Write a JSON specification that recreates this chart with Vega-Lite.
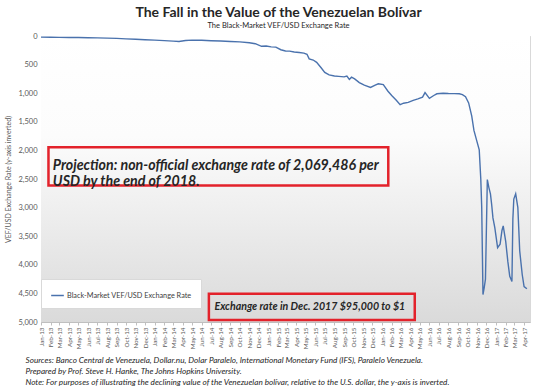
{
  "$schema": "https://vega.github.io/schema/vega-lite/v6.json",
  "width": 540,
  "height": 392,
  "autosize": {"type": "fit", "contains": "padding"},
  "padding": {"left": 4, "right": 10, "top": 5, "bottom": 6},
  "background": "white",
  "config": {
    "font": "Lato",
    "view": {"stroke": "#d9d9d9", "strokeWidth": 1},
    "axis": {"labelFont": "Lato", "titleFont": "Lato", "labelColor": "#595959", "titleColor": "#595959"}
  },
  "title": {
    "text": "The Fall in the Value of the Venezuelan Bolívar",
    "subtitle": "The Black-Market VEF/USD Exchange Rate",
    "fontSize": 14,
    "fontWeight": "bold",
    "color": "#262626",
    "subtitleFontSize": 7.5,
    "subtitleColor": "#262626",
    "subtitlePadding": 2,
    "anchor": "middle",
    "dx": -7,
    "offset": 3
  },
  "datasets": {
    "rate": [
      {"date": "2013-01-01", "rate": 20},
      {"date": "2013-02-01", "rate": 22},
      {"date": "2013-03-01", "rate": 24},
      {"date": "2013-04-01", "rate": 25},
      {"date": "2013-05-01", "rate": 27},
      {"date": "2013-06-01", "rate": 30},
      {"date": "2013-07-01", "rate": 33},
      {"date": "2013-08-01", "rate": 38},
      {"date": "2013-09-01", "rate": 42},
      {"date": "2013-10-01", "rate": 50},
      {"date": "2013-11-01", "rate": 58},
      {"date": "2013-12-01", "rate": 65},
      {"date": "2014-01-01", "rate": 72},
      {"date": "2014-02-01", "rate": 80},
      {"date": "2014-03-01", "rate": 90},
      {"date": "2014-03-20", "rate": 95},
      {"date": "2014-04-10", "rate": 78},
      {"date": "2014-05-01", "rate": 72},
      {"date": "2014-06-01", "rate": 75},
      {"date": "2014-07-01", "rate": 82},
      {"date": "2014-08-01", "rate": 88},
      {"date": "2014-09-01", "rate": 95},
      {"date": "2014-10-01", "rate": 102},
      {"date": "2014-11-01", "rate": 118},
      {"date": "2014-11-20", "rate": 135},
      {"date": "2014-12-10", "rate": 180},
      {"date": "2014-12-25", "rate": 175},
      {"date": "2015-01-10", "rate": 190},
      {"date": "2015-01-25", "rate": 195},
      {"date": "2015-02-10", "rate": 240},
      {"date": "2015-02-25", "rate": 262},
      {"date": "2015-03-10", "rate": 265},
      {"date": "2015-03-25", "rate": 280},
      {"date": "2015-04-10", "rate": 288},
      {"date": "2015-04-25", "rate": 300},
      {"date": "2015-05-05", "rate": 320},
      {"date": "2015-05-12", "rate": 400},
      {"date": "2015-05-25", "rate": 420},
      {"date": "2015-06-05", "rate": 460},
      {"date": "2015-06-20", "rate": 560},
      {"date": "2015-07-01", "rate": 636},
      {"date": "2015-07-15", "rate": 680},
      {"date": "2015-08-01", "rate": 700},
      {"date": "2015-08-15", "rate": 705},
      {"date": "2015-09-01", "rate": 715},
      {"date": "2015-09-10", "rate": 700},
      {"date": "2015-09-18", "rate": 760},
      {"date": "2015-09-25", "rate": 720},
      {"date": "2015-10-05", "rate": 750},
      {"date": "2015-10-20", "rate": 815},
      {"date": "2015-11-05", "rate": 860},
      {"date": "2015-11-25", "rate": 900},
      {"date": "2015-12-10", "rate": 860},
      {"date": "2015-12-20", "rate": 835},
      {"date": "2016-01-05", "rate": 850},
      {"date": "2016-01-20", "rate": 965},
      {"date": "2016-02-01", "rate": 1040},
      {"date": "2016-02-15", "rate": 1120},
      {"date": "2016-02-28", "rate": 1200},
      {"date": "2016-03-10", "rate": 1175},
      {"date": "2016-03-25", "rate": 1160},
      {"date": "2016-04-10", "rate": 1125},
      {"date": "2016-04-25", "rate": 1100},
      {"date": "2016-05-10", "rate": 1070},
      {"date": "2016-05-18", "rate": 990},
      {"date": "2016-06-01", "rate": 1090},
      {"date": "2016-06-15", "rate": 1040},
      {"date": "2016-06-25", "rate": 1010},
      {"date": "2016-07-15", "rate": 1000},
      {"date": "2016-08-01", "rate": 1005},
      {"date": "2016-08-20", "rate": 1008},
      {"date": "2016-09-05", "rate": 1010},
      {"date": "2016-09-15", "rate": 1025},
      {"date": "2016-09-25", "rate": 1060},
      {"date": "2016-10-05", "rate": 1170},
      {"date": "2016-10-15", "rate": 1400},
      {"date": "2016-10-22", "rate": 1650},
      {"date": "2016-11-01", "rate": 1850},
      {"date": "2016-11-08", "rate": 1990},
      {"date": "2016-11-13", "rate": 2500},
      {"date": "2016-11-16", "rate": 3000},
      {"date": "2016-11-20", "rate": 4520},
      {"date": "2016-11-24", "rate": 4400},
      {"date": "2016-11-28", "rate": 4250},
      {"date": "2016-12-04", "rate": 2510},
      {"date": "2016-12-09", "rate": 2650},
      {"date": "2016-12-14", "rate": 2760},
      {"date": "2016-12-18", "rate": 2950},
      {"date": "2016-12-22", "rate": 3180},
      {"date": "2016-12-28", "rate": 3350},
      {"date": "2017-01-06", "rate": 3700},
      {"date": "2017-01-14", "rate": 3640},
      {"date": "2017-01-20", "rate": 3400},
      {"date": "2017-01-24", "rate": 3320},
      {"date": "2017-02-01", "rate": 3590},
      {"date": "2017-02-08", "rate": 3950},
      {"date": "2017-02-14", "rate": 4200},
      {"date": "2017-02-21", "rate": 4290},
      {"date": "2017-02-24", "rate": 3200},
      {"date": "2017-02-27", "rate": 2850},
      {"date": "2017-03-05", "rate": 2760},
      {"date": "2017-03-12", "rate": 3000},
      {"date": "2017-03-18", "rate": 3760},
      {"date": "2017-03-26", "rate": 4170},
      {"date": "2017-04-01", "rate": 4380},
      {"date": "2017-04-10", "rate": 4420}
    ],
    "background": [
      {"date": "2013-01-01", "date2": "2017-04-20", "rate": 0, "rate2": 5000}
    ],
    "boxes": [
      {"date": "2013-01-25", "date2": "2016-01-21", "rate": 1943, "rate2": 2615},
      {"date": "2014-06-24", "date2": "2016-04-15", "rate": 4505, "rate2": 4965}
    ],
    "notes": [
      {"date": "2013-02-08", "rate": 2270, "label": "Projection: non-official exchange rate of 2,069,486 per\nUSD by the end of 2018.", "size": "big"},
      {"date": "2014-07-12", "rate": 4735, "label": "Exchange rate in Dec. 2017  $95,000 to $1", "size": "small"}
    ]
  },
  "encoding": {
    "x": {
      "field": "date", "type": "temporal",
      "scale": {"domain": ["2013-01-01", "2017-04-20"], "nice": false},
      "axis": {
        "format": "%b-%y",
        "tickCount": {"interval": "month", "step": 1},
        "labelAngle": -90,
        "labelFontSize": 6.3,
        "labelPadding": 2,
        "labelOverlap": false,
        "labelFlush": false,
        "tickColor": "#bfbfbf",
        "tickSize": 3,
        "domainColor": "#bfbfbf",
        "grid": false,
        "title": [
          "Sources: Banco Central de Venezuela, Dollar.nu, Dolar Paralelo, International Monetary Fund (IFS), Paralelo Venezuela.",
          "Prepared by Prof. Steve H. Hanke, The Johns Hopkins University.",
          "Note: For purposes of illustrating the declining value of the Venezuelan bolívar, relative to the U.S. dollar, the y-axis is inverted."
        ],
        "titleFontSize": 8.2,
        "titleFontStyle": "italic",
        "titleFontWeight": "normal",
        "titleColor": "#262626",
        "titleAnchor": "start",
        "titleAlign": "left",
        "titleBaseline": "top",
        "titleX": -16,
        "titlePadding": 8,
        "titleLineHeight": 11,
        "titleLimit": 600
      }
    },
    "y": {
      "field": "rate", "type": "quantitative",
      "scale": {"domain": [0, 5000], "reverse": true, "nice": false},
      "axis": {
        "values": [0, 500, 1000, 1500, 2000, 2500, 3000, 3500, 4000, 4500, 5000],
        "format": ",d",
        "labelFontSize": 7.5,
        "labelPadding": 4,
        "labelOverlap": false,
        "ticks": false,
        "domain": false,
        "gridColor": "#d9d9d9",
        "title": "VEF/USD Exchange Rate (y-axis inverted)",
        "titleFontSize": 7,
        "titleFontWeight": "normal",
        "titlePadding": 6
      }
    }
  },
  "layer": [
    {
      "data": {"name": "background"},
      "mark": {
        "type": "rect",
        "color": {
          "gradient": "linear", "x1": 0, "y1": 0, "x2": 0, "y2": 1,
          "stops": [
            {"offset": 0, "color": "#ffffff"},
            {"offset": 0.35, "color": "#fcfcfc"},
            {"offset": 1, "color": "#dadada"}
          ]
        }
      },
      "encoding": {
        "x2": {"field": "date2"},
        "y2": {"field": "rate2"}
      }
    },
    {
      "data": {"name": "rate"},
      "mark": {"type": "line", "strokeWidth": 1.4, "interpolate": "linear"},
      "encoding": {
        "color": {
          "datum": "Black-Market VEF/USD Exchange Rate",
          "scale": {"range": ["#4a72ad"]},
          "legend": {
            "title": null,
            "orient": "none",
            "legendX": 0,
            "legendY": 243,
            "symbolType": "stroke",
            "symbolSize": 160,
            "symbolStrokeWidth": 1.5,
            "labelFontSize": 7.3,
            "labelColor": "#404040",
            "labelOffset": 2,
            "padding": 9,
            "fillColor": "white",
            "strokeColor": "#d9d9d9"
          }
        }
      }
    },
    {
      "data": {"name": "boxes"},
      "mark": {"type": "rect", "fill": null, "fillOpacity": 0, "stroke": "#e3222b", "strokeWidth": 2.5},
      "encoding": {
        "x2": {"field": "date2"},
        "y2": {"field": "rate2"}
      }
    },
    {
      "data": {"name": "notes"},
      "mark": {
        "type": "text", "align": "left", "baseline": "middle", "lineBreak": "\n",
        "fontStyle": "italic", "fontWeight": "bold", "color": "#262626", "lineHeight": 16
      },
      "encoding": {
        "text": {"field": "label"},
        "size": {"field": "size", "type": "nominal", "scale": {"domain": ["big", "small"], "range": [14.2, 10.6]}, "legend": null}
      }
    }
  ]
}
